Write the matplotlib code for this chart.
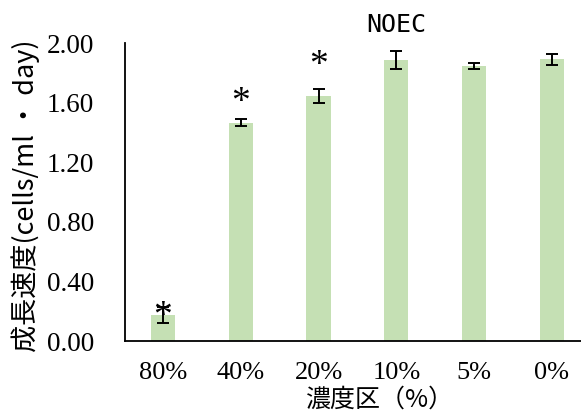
import matplotlib
matplotlib.use("Agg")
import matplotlib.pyplot as plt
import numpy as np

# Growth rate per concentration group
categories = ["80%", "40%", "20%", "10%", "5%", "0%"]
growth_rate = [0.175, 1.466, 1.645, 1.886, 1.845, 1.890]
growth_err = [0.054, 0.022, 0.047, 0.058, 0.019, 0.038]

# Significance markers (category index, height)
star_idx = [0, 1, 2]
star_y = [0.19, 1.625, 1.875]

# NOEC annotation position
noec_idx = 3
noec_y = 2.12

yticks = [0.0, 0.4, 0.8, 1.2, 1.6, 2.0]

serif = "Liberation Serif"
cjk = ["Noto Sans CJK JP", "DejaVu Sans"]

fig = plt.figure(figsize=(5.81, 4.12), dpi=100)
ax = fig.add_axes([0.2146, 0.1723, 0.7854, 0.7233])

x = np.arange(len(categories))
ax.bar(x, growth_rate, width=0.31, color="#C5E0B4", zorder=2)
ax.errorbar(x, growth_rate, yerr=growth_err, fmt="none", ecolor="black",
            elinewidth=1.4, capsize=4.3, capthick=1.4, zorder=3)

for i, y in zip(star_idx, star_y):
    ax.text(x[i], y, "*", ha="center", va="center_baseline", fontsize=27,
            family=serif, zorder=4)

ax.text(x[noec_idx], noec_y, "NOEC", ha="center", va="center",
        fontsize=18, family="DejaVu Sans Mono", clip_on=False)

ax.set_xlim(-0.493, 5.375)
ax.set_ylim(0, 2.0)
ax.set_yticks(yticks)
ax.set_yticklabels([f"{v:.2f}" for v in yticks], family=serif, fontsize=19.5)
ax.set_xticks(x)
ax.set_xticklabels(categories, family=serif, fontsize=19)
ax.tick_params(axis="both", length=0)
ax.tick_params(axis="y", pad=22)
ax.tick_params(axis="x", pad=15)

for s in ["top", "right"]:
    ax.spines[s].set_visible(False)
for s in ["left", "bottom"]:
    ax.spines[s].set_linewidth(1.3)

fig.text(0.045, 0.525, "成長速度(cells/ml ・ day)", rotation=90, ha="center",
         va="center", family=cjk, fontsize=19.5)
fig.text(0.652, 0.03, "濃度区（%）", ha="center", va="center",
         family=cjk, fontsize=18)

fig.savefig("out.png", dpi=100)
